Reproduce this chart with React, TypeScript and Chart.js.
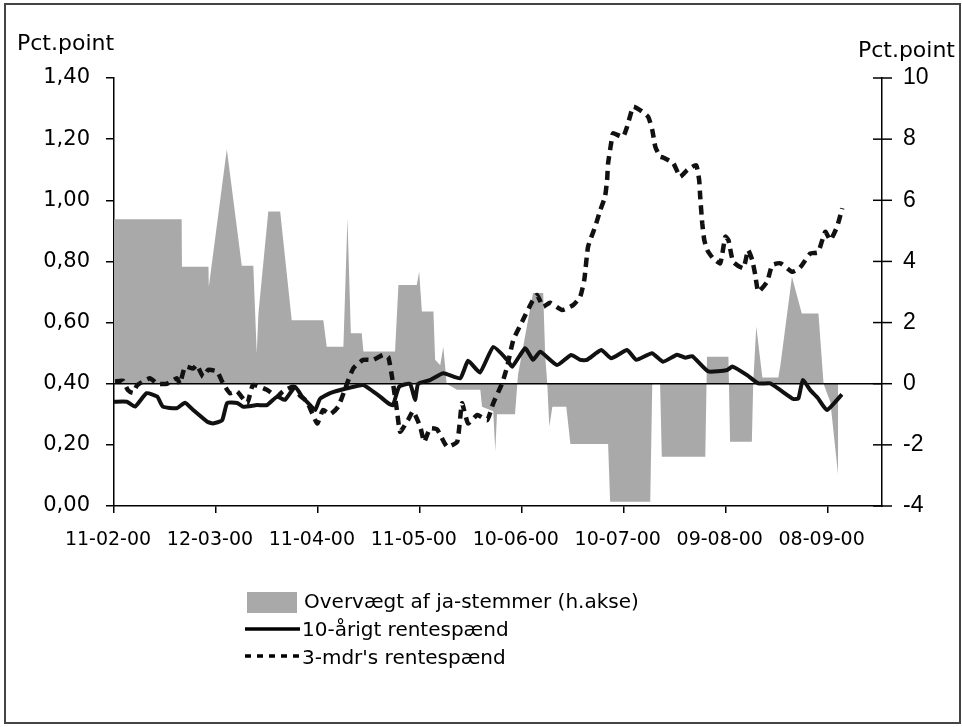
import React, { useEffect, useRef } from 'react';
import { Chart, registerables } from 'chart.js';

Chart.register(...registerables);

// X axis: days since 11-02-00, labelled every 30 days
const tickDays = [0, 30, 60, 90, 120, 150, 180, 210];
const tickLabels = ['11-02-00', '12-03-00', '11-04-00', '11-05-00', '10-06-00', '10-07-00', '09-08-00', '08-09-00'];
const leftTicks = [0, 0.2, 0.4, 0.6, 0.8, 1.0, 1.2, 1.4];
const rightTicks = [-4, -2, 0, 2, 4, 6, 8, 10];

// Overvægt af ja-stemmer (right axis, pct.point)
const voteDays = [0, 19.9, 20.0, 27.8, 27.9, 33.2, 37.6, 41.0, 42.0, 42.5, 45.4, 48.9, 52.3, 61.6, 62.6, 67.5, 68.7, 69.7, 72.9, 73.4, 82.7, 83.7, 89.1, 89.8, 90.6, 94.0, 94.5, 96.0, 96.9, 97.9, 100.9, 107.8, 108.3, 111.6, 112.2, 112.7, 118.0, 118.9, 123.3, 126.3, 126.9, 127.5, 128.1, 129.0, 133.1, 134.3, 145.4, 146.0, 157.8, 158.4, 160.7, 161.2, 174.0, 174.5, 180.8, 181.3, 187.7, 188.1, 189.0, 190.8, 195.5, 196.1, 199.5, 202.4, 207.3, 208.8, 210.8, 213.1];
const voteValues = [5.38, 5.38, 3.83, 3.83, 3.17, 7.67, 3.86, 3.86, 1.0, 2.3, 5.63, 5.63, 2.08, 2.08, 1.21, 1.21, 5.41, 1.65, 1.65, 1.05, 1.05, 3.23, 3.23, 3.66, 2.36, 2.36, 0.78, 0.6, 1.21, 0, -0.2, -0.2, -0.75, -0.9, -2.2, -1.0, -1.0, 0.3, 2.97, 2.97, 0.88, 0, -1.4, -0.75, -0.75, -1.97, -1.97, -3.86, -3.86, 0, 0, -2.39, -2.39, 0.88, 0.88, -1.9, -1.9, 0, 1.87, 0.2, 0.2, 0.6, 3.5, 2.3, 2.3, 0, -0.6, -3.0];

// 10-årigt rentespænd (left axis)
const tenYearDays = [0, 3.8, 6.2, 9.6, 12.7, 14.4, 18.5, 20.9, 23.3, 27.4, 29.1, 31.8, 33.3, 36.2, 38.0, 42.1, 45.0, 48.0, 50.3, 53.3, 55.3, 57.7, 59.2, 60.6, 63.6, 68.6, 73.3, 76.2, 78.3, 80.7, 82.1, 83.9, 87.1, 88.6, 89.5, 93.0, 96.9, 101.9, 104.2, 107.7, 111.6, 115.7, 117.2, 121.0, 123.3, 125.4, 130.4, 134.5, 137.2, 139.2, 143.4, 146.3, 151.0, 153.7, 158.3, 161.6, 165.7, 168.1, 170.2, 174.9, 180.5, 182.0, 186.3, 189.6, 193.1, 196.1, 199.9, 201.4, 202.7, 204.9, 207.0, 209.8, 214.2];
const tenYearValues = [0.341, 0.341, 0.325, 0.369, 0.358, 0.325, 0.32, 0.338, 0.314, 0.276, 0.27, 0.28, 0.337, 0.337, 0.325, 0.33, 0.33, 0.358, 0.347, 0.39, 0.358, 0.33, 0.314, 0.35, 0.369, 0.385, 0.396, 0.375, 0.358, 0.336, 0.33, 0.39, 0.4, 0.347, 0.4, 0.412, 0.434, 0.418, 0.475, 0.437, 0.52, 0.478, 0.456, 0.516, 0.478, 0.505, 0.461, 0.494, 0.478, 0.478, 0.51, 0.483, 0.51, 0.478, 0.5, 0.472, 0.495, 0.485, 0.49, 0.44, 0.445, 0.456, 0.428, 0.401, 0.401, 0.379, 0.35, 0.352, 0.412, 0.379, 0.355, 0.314, 0.365];

// 3-mdr's rentespænd (left axis)
const threeMonthDays = [0.3, 2.6, 4.1, 5.6, 6.8, 10.6, 12.7, 15.6, 18.5, 19.4, 20.9, 23.3, 24.4, 26.2, 27.7, 30.3, 32.1, 34.1, 36.2, 39.2, 40.9, 45.0, 48.0, 49.7, 52.7, 54.8, 56.8, 59.8, 61.5, 63.6, 66.0, 68.6, 70.4, 73.3, 76.2, 79.2, 80.7, 81.8, 83.3, 84.2, 86.5, 88.0, 90.1, 91.3, 93.0, 95.1, 98.0, 101.0, 102.4, 104.2, 106.9, 109.8, 111.6, 114.2, 115.7, 117.5, 120.1, 123.0, 124.5, 126.3, 128.3, 131.9, 135.1, 137.2, 138.4, 139.5, 141.6, 143.1, 144.5, 145.1, 145.4, 146.6, 146.9, 149.8, 151.0, 152.8, 154.8, 157.2, 158.4, 159.3, 160.7, 161.6, 164.6, 166.6, 168.7, 171.3, 172.2, 172.5, 173.1, 173.7, 174.6, 176.3, 178.4, 179.9, 180.8, 182.2, 185.2, 186.6, 187.8, 188.7, 189.6, 192.2, 193.7, 196.1, 199.6, 201.9, 204.9, 207.2, 209.3, 210.8, 212.8, 214.3];
const threeMonthValues = [0.407, 0.41, 0.379, 0.37, 0.395, 0.418, 0.4, 0.4, 0.418, 0.4, 0.456, 0.45, 0.461, 0.423, 0.445, 0.44, 0.401, 0.369, 0.375, 0.336, 0.396, 0.38, 0.358, 0.375, 0.39, 0.36, 0.341, 0.27, 0.314, 0.3, 0.325, 0.401, 0.45, 0.478, 0.478, 0.494, 0.488, 0.423, 0.31, 0.243, 0.281, 0.31, 0.26, 0.21, 0.254, 0.25, 0.194, 0.21, 0.336, 0.27, 0.298, 0.281, 0.336, 0.401, 0.456, 0.543, 0.603, 0.668, 0.69, 0.652, 0.665, 0.641, 0.657, 0.685, 0.74, 0.848, 0.914, 0.968, 1.012, 1.066, 1.121, 1.208, 1.219, 1.208, 1.241, 1.306, 1.295, 1.273, 1.23, 1.175, 1.143, 1.14, 1.121, 1.077, 1.099, 1.115, 1.066, 1.012, 0.925, 0.87, 0.837, 0.81, 0.794, 0.881, 0.87, 0.799, 0.778, 0.837, 0.805, 0.756, 0.701, 0.734, 0.788, 0.794, 0.766, 0.78, 0.826, 0.83, 0.897, 0.87, 0.914, 0.974];

const legendLabels = ['Overvægt af ja-stemmer (h.akse)', '10-årigt rentespænd', "3-mdr's rentespænd"];
const axisTitle = 'Pct.point';

const AREA_COLOR = '#a9a9a9';
const FONT = '"DejaVu Sans", sans-serif';

const pairs = (xs: number[], ys: number[]) => xs.map((x, i) => ({ x, y: ys[i] }));

const decor = {
  id: 'decor',
  afterDatasetDraw(chart: any, args: any) {
    if (args.index !== 2) return;
    const { ctx, chartArea } = chart;
    const y = chart.scales.yR.getPixelForValue(0);
    ctx.save();
    ctx.strokeStyle = '#000';
    ctx.lineWidth = 1.5;
    ctx.beginPath();
    ctx.moveTo(chartArea.left, y);
    ctx.lineTo(chartArea.right, y);
    ctx.stroke();
    ctx.restore();
  },
  afterDraw(chart: any) {
    const { ctx, chartArea } = chart;
    ctx.save();
    // right axis ticks crossing the axis
    const yR = chart.scales.yR;
    ctx.strokeStyle = '#000';
    ctx.lineWidth = 1.5;
    rightTicks.forEach((v) => {
      const y = yR.getPixelForValue(v);
      ctx.beginPath();
      ctx.moveTo(chartArea.right - 9, y);
      ctx.lineTo(chartArea.right + 10, y);
      ctx.stroke();
    });
    // axis titles
    ctx.fillStyle = '#000';
    ctx.font = `22px ${FONT}`;
    ctx.textBaseline = 'alphabetic';
    ctx.textAlign = 'left';
    ctx.fillText(axisTitle, 17, 50);
    ctx.textAlign = 'right';
    ctx.fillText(axisTitle, 955, 57);
    // legend
    ctx.textAlign = 'left';
    ctx.textBaseline = 'middle';
    ctx.font = `20px ${FONT}`;
    ctx.fillStyle = AREA_COLOR;
    ctx.fillRect(247, 592, 50, 21);
    ctx.fillStyle = '#000';
    ctx.fillText(legendLabels[0], 304, 603);
    ctx.lineWidth = 3.5;
    ctx.beginPath();
    ctx.moveTo(245, 629);
    ctx.lineTo(300, 629);
    ctx.stroke();
    ctx.fillText(legendLabels[1], 302, 631);
    ctx.setLineDash([6, 6]);
    ctx.beginPath();
    ctx.moveTo(245, 656);
    ctx.lineTo(300, 656);
    ctx.stroke();
    ctx.setLineDash([]);
    ctx.fillText(legendLabels[2], 302, 659);
    // frame
    ctx.strokeStyle = '#444';
    ctx.lineWidth = 2;
    ctx.strokeRect(5, 4, 955, 719);
    ctx.restore();
  },
};

export default function App() {
  const ref = useRef<HTMLCanvasElement>(null);

  useEffect(() => {
    if (!ref.current) return;
    const chart = new Chart(ref.current, {
      type: 'line',
      data: {
        datasets: [
          {
            label: legendLabels[1],
            data: pairs(tenYearDays, tenYearValues),
            yAxisID: 'yL',
            borderColor: '#111',
            borderWidth: 4,
            pointRadius: 0,
            tension: 0.15,
            fill: false,
          },
          {
            label: legendLabels[2],
            data: pairs(threeMonthDays, threeMonthValues),
            yAxisID: 'yL',
            borderColor: '#111',
            borderWidth: 4.5,
            borderDash: [9, 6],
            pointRadius: 0,
            tension: 0.15,
            fill: false,
          },
          {
            label: legendLabels[0],
            data: pairs(voteDays, voteValues),
            yAxisID: 'yR',
            borderWidth: 0,
            borderColor: AREA_COLOR,
            backgroundColor: AREA_COLOR,
            pointRadius: 0,
            tension: 0,
            fill: 'origin',
          },
        ],
      },
      options: {
        responsive: false,
        animation: false,
        events: [],
        layout: { padding: { top: 78, left: 0, right: 0, bottom: 161 } },
        plugins: { legend: { display: false }, tooltip: { enabled: false } },
        scales: {
          x: {
            type: 'linear',
            min: 0,
            max: 226,
            afterBuildTicks: (s: any) => {
              s.ticks = tickDays.map((v) => ({ value: v }));
            },
            afterFit: (s: any) => {
              s.height = 60;
            },
            ticks: {
              callback: (_v: any, i: number) => tickLabels[i] ?? '',
              font: { family: FONT, size: 19 },
              color: '#000',
              padding: 16,
              labelOffset: -6,
              maxRotation: 0,
              autoSkip: false,
            },
            grid: { drawOnChartArea: false, tickLength: 7, color: '#000', lineWidth: 1.5 },
            border: { color: '#000', width: 1.5 },
          },
          yL: {
            type: 'linear',
            position: 'left',
            min: 0,
            max: 1.4,
            afterBuildTicks: (s: any) => {
              s.ticks = leftTicks.map((v) => ({ value: v }));
            },
            afterFit: (s: any) => {
              s.width = 114;
            },
            ticks: {
              callback: (v: any) => Number(v).toFixed(2).replace('.', ','),
              font: { family: FONT, size: 21 },
              color: '#000',
              padding: 16,
            },
            grid: { drawOnChartArea: false, tickLength: 8, color: '#000', lineWidth: 1.5 },
            border: { color: '#000', width: 1.5 },
          },
          yR: {
            type: 'linear',
            position: 'right',
            min: -4,
            max: 10,
            afterBuildTicks: (s: any) => {
              s.ticks = rightTicks.map((v) => ({ value: v }));
            },
            afterFit: (s: any) => {
              s.width = 80;
            },
            ticks: {
              callback: (v: any) => String(v),
              font: { family: '"Liberation Sans", Arial, sans-serif', size: 23 },
              color: '#000',
              padding: 21,
            },
            grid: { drawOnChartArea: false, drawTicks: false },
            border: { color: '#000', width: 1.5 },
          },
        },
      },
      plugins: [decor],
    } as any);
    return () => chart.destroy();
  }, []);

  return (
    <div style={{ position: 'fixed', left: 0, top: 0, width: 962, height: 727, background: '#fff' }}>
      <canvas ref={ref} width={962} height={727} />
    </div>
  );
}
